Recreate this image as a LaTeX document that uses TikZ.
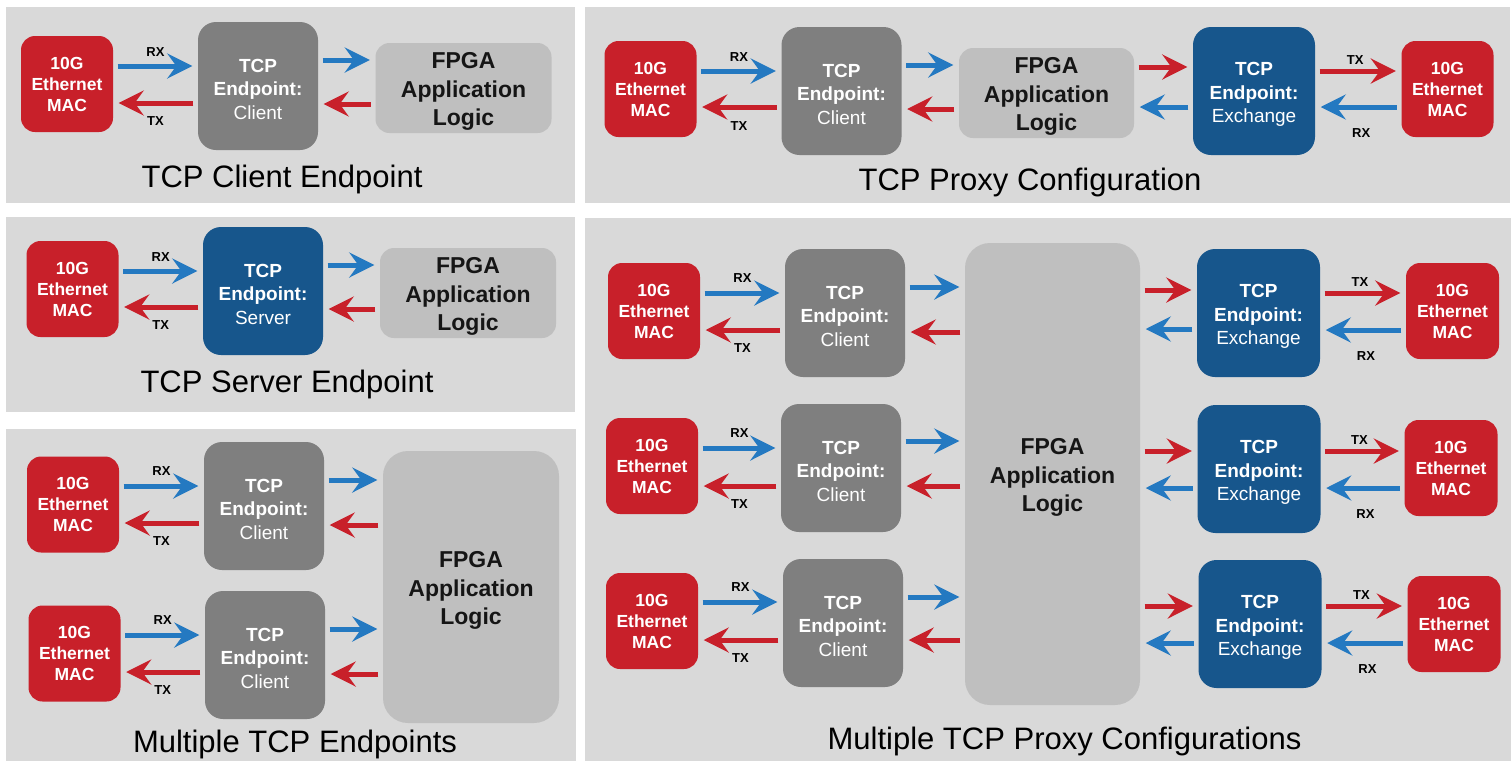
\documentclass[tikz,border=0pt]{standalone}
\usepackage{fontspec}
\setmainfont{Liberation Sans}
\usetikzlibrary{arrows.meta}
\definecolor{panelgray}{HTML}{D9D9D9}
\definecolor{macred}{HTML}{C8202A}
\definecolor{tcpgray}{HTML}{7F7F7F}
\definecolor{tcpblue}{HTML}{17568C}
\definecolor{fpgagray}{HTML}{BFBFBF}
\definecolor{arrblue}{HTML}{2479C1}
\definecolor{arrred}{HTML}{C8202A}
\definecolor{fpgatext}{HTML}{151515}
\newcommand\padT{\rule{0pt}{20pt}}
\newcommand\padF{\rule{0pt}{23pt}}
\tikzset{
  panel/.style={fill=panelgray, draw=none},
  mac/.style={fill=macred, rounded corners=14pt, minimum width=92pt, minimum height=96pt, inner sep=0pt, text=white, align=center, font=\bfseries\fontsize{17.5}{21}\selectfont},
  tcpg/.style={fill=tcpgray, rounded corners=18pt, minimum width=120pt, minimum height=128pt, inner sep=0pt, text=white, align=center, font=\bfseries\fontsize{19}{23.5}\selectfont},
  tcpb/.style={tcpg, fill=tcpblue},
  fpga/.style={fill=fpgagray, rounded corners=14pt, minimum width=176pt, minimum height=90pt, inner sep=0pt, text=fpgatext, align=center, font=\bfseries\fontsize{23}{28.5}\selectfont},
  ba/.style={-{Stealth[length=25pt,width=25pt,inset=9pt]}, line width=5pt, draw=arrblue, shorten <=4.5pt, shorten >=5.5pt},
  ra/.style={ba, draw=arrred},
  lbl/.style={font=\bfseries\fontsize{13}{15}\selectfont, text=black, inner sep=0pt},
  title/.style={font=\fontsize{31}{36}\selectfont, anchor=base, text=black, inner sep=0pt},
}
\begin{document}
\begin{tikzpicture}[x=1pt,y=-1pt]
\useasboundingbox (0,0) rectangle (1511,761);
\fill[white] (0,0) rectangle (1511,761);
% panels
\fill[panel] (6,7) rectangle (575,203);
\fill[panel] (585,7) rectangle (1510,203);
\fill[panel] (6,217) rectangle (575,412);
\fill[panel] (6,429) rectangle (576,761);
\fill[panel] (585,218) rectangle (1511,761);

% ---------- Panel 1: TCP Client Endpoint
\node[mac] (m1) at (67,84) {10G\\Ethernet\\MAC};
\node[tcpg] (t1) at (258,86) {\padT TCP\\Endpoint:\\{\mdseries Client}};
\node[fpga] (f1) at (463.5,88) {\padF FPGA\\Application\\Logic};
\draw[ba] (m1.east |- 0,66) -- (t1.west |- 0,66) node[lbl,midway,yshift=14pt]{RX};
\draw[ra] (t1.west |- 0,103) -- (m1.east |- 0,103) node[lbl,midway,yshift=-18pt]{TX};
\draw[ba] (t1.east |- 0,60) -- (f1.west |- 0,60);
\draw[ra] (f1.west |- 0,104) -- (t1.east |- 0,104);
\node[title] (ti1) at (282,187) {TCP Client Endpoint};

% ---------- Panel 2: TCP Proxy Configuration
\node[mac] (m2a) at (650.5,89) {10G\\Ethernet\\MAC};
\node[tcpg] (t2) at (841.5,91) {\padT TCP\\Endpoint:\\{\mdseries Client}};
\node[fpga, minimum width=175pt] (f2) at (1046.5,93) {\padF FPGA\\Application\\Logic};
\node[tcpb, minimum width=122pt] (x2) at (1254,91) {\padT TCP\\Endpoint:\\{\mdseries Exchange}};
\node[mac] (m2b) at (1447.5,89) {10G\\Ethernet\\MAC};
\draw[ba] (m2a.east |- 0,71) -- (t2.west |- 0,71) node[lbl,midway,yshift=14pt]{RX};
\draw[ra] (t2.west |- 0,107) -- (m2a.east |- 0,107) node[lbl,midway,yshift=-19pt]{TX};
\draw[ba] (t2.east |- 0,65) -- (f2.west |- 0,65);
\draw[ra] (f2.west |- 0,109) -- (t2.east |- 0,109);
\draw[ra] (f2.east |- 0,67) -- (x2.west |- 0,67);
\draw[ba] (x2.west |- 0,107) -- (f2.east |- 0,107);
\draw[ra] (x2.east |- 0,71) -- (m2b.west |- 0,71) node[lbl,midway,yshift=11pt,xshift=-3pt]{TX};
\draw[ba] (m2b.west |- 0,107) -- (x2.east |- 0,107) node[lbl,midway,yshift=-26pt,xshift=3pt]{RX};
\node[title] (ti2) at (1030,190) {TCP Proxy Configuration};

% ---------- Panel 3: TCP Server Endpoint
\node[mac] (m3) at (72.5,289) {10G\\Ethernet\\MAC};
\node[tcpb] (t3) at (263,291) {\padT TCP\\Endpoint:\\{\mdseries Server}};
\node[fpga] (f3) at (468,293) {\padF FPGA\\Application\\Logic};
\draw[ba] (m3.east |- 0,271) -- (t3.west |- 0,271) node[lbl,midway,yshift=14pt]{RX};
\draw[ra] (t3.west |- 0,307) -- (m3.east |- 0,307) node[lbl,midway,yshift=-18pt]{TX};
\draw[ba] (t3.east |- 0,265) -- (f3.west |- 0,265);
\draw[ra] (f3.west |- 0,309) -- (t3.east |- 0,309);
\node[title] (ti3) at (287,392) {TCP Server Endpoint};

% ---------- Panel 4: Multiple TCP Endpoints
\node[mac] (m4a) at (73,504.5) {10G\\Ethernet\\MAC};
\node[tcpg] (t4a) at (264,506) {\padT TCP\\Endpoint:\\{\mdseries Client}};
\node[mac] (m4b) at (74.5,653.5) {10G\\Ethernet\\MAC};
\node[tcpg] (t4b) at (265,655) {\padT TCP\\Endpoint:\\{\mdseries Client}};
\node[fpga, minimum height=272pt, rounded corners=25pt] (f4) at (471,587) {\padF FPGA\\Application\\Logic};
\draw[ba] (m4a.east |- 0,486) -- (t4a.west |- 0,486) node[lbl,midway,yshift=15pt]{RX};
\draw[ra] (t4a.west |- 0,523) -- (m4a.east |- 0,523) node[lbl,midway,yshift=-18pt]{TX};
\draw[ba] (m4b.east |- 0,635) -- (t4b.west |- 0,635) node[lbl,midway,yshift=15pt]{RX};
\draw[ra] (t4b.west |- 0,672) -- (m4b.east |- 0,672) node[lbl,midway,yshift=-18pt]{TX};
\draw[ba] (t4a.east |- 0,480) -- (f4.west |- 0,480);
\draw[ra] (f4.west |- 0,525) -- (t4a.east |- 0,525);
\draw[ba] (t4b.east |- 0,629) -- (f4.west |- 0,629);
\draw[ra] (f4.west |- 0,674) -- (t4b.east |- 0,674);
\node[title] (ti4) at (295,752) {Multiple TCP Endpoints};

% ---------- Panel 5: Multiple TCP Proxy Configurations
\node[fpga, minimum width=175pt, minimum height=462pt, rounded corners=25pt] (f5) at (1052.5,474) {\padF FPGA\\Application\\Logic};
% row 1
\node[mac] (m5a) at (654,311) {10G\\Ethernet\\MAC};
\node[tcpg] (t5a) at (845,313) {\padT TCP\\Endpoint:\\{\mdseries Client}};
\node[tcpb, minimum width=123pt] (x5a) at (1258.5,313) {\padT TCP\\Endpoint:\\{\mdseries Exchange}};
\node[mac, minimum width=93pt] (n5a) at (1452.5,311) {10G\\Ethernet\\MAC};
% row 2
\node[mac] (m5b) at (652,466) {10G\\Ethernet\\MAC};
\node[tcpg] (t5b) at (841,468) {\padT TCP\\Endpoint:\\{\mdseries Client}};
\node[tcpb, minimum width=123pt] (x5b) at (1259,469) {\padT TCP\\Endpoint:\\{\mdseries Exchange}};
\node[mac, minimum width=93pt] (n5b) at (1451,468) {10G\\Ethernet\\MAC};
% row 3
\node[mac] (m5c) at (652,621) {10G\\Ethernet\\MAC};
\node[tcpg] (t5c) at (843,623) {\padT TCP\\Endpoint:\\{\mdseries Client}};
\node[tcpb, minimum width=123pt] (x5c) at (1260,624) {\padT TCP\\Endpoint:\\{\mdseries Exchange}};
\node[mac, minimum width=93pt] (n5c) at (1454,624) {10G\\Ethernet\\MAC};
% row 1 arrows
\draw[ba] (m5a.east |- 0,293) -- (t5a.west |- 0,293) node[lbl,midway,yshift=15pt]{RX};
\draw[ra] (t5a.west |- 0,330) -- (m5a.east |- 0,330) node[lbl,midway,yshift=-18pt]{TX};
\draw[ba] (t5a.east |- 0,287) -- (f5.west |- 0,287);
\draw[ra] (f5.west |- 0,332) -- (t5a.east |- 0,332);
\draw[ra] (f5.east |- 0,290) -- (x5a.west |- 0,290);
\draw[ba] (x5a.west |- 0,329) -- (f5.east |- 0,329);
\draw[ra] (x5a.east |- 0,293) -- (n5a.west |- 0,293) node[lbl,midway,yshift=11pt,xshift=-3pt]{TX};
\draw[ba] (n5a.west |- 0,330) -- (x5a.east |- 0,330) node[lbl,midway,yshift=-26pt,xshift=3pt]{RX};
% row 2 arrows
\draw[ba] (m5b.east |- 0,448) -- (t5b.west |- 0,448) node[lbl,midway,yshift=15pt]{RX};
\draw[ra] (t5b.west |- 0,486) -- (m5b.east |- 0,486) node[lbl,midway,yshift=-18pt]{TX};
\draw[ba] (t5b.east |- 0,441) -- (f5.west |- 0,441);
\draw[ra] (f5.west |- 0,486) -- (t5b.east |- 0,486);
\draw[ra] (f5.east |- 0,451) -- (x5b.west |- 0,451);
\draw[ba] (x5b.west |- 0,488) -- (f5.east |- 0,488);
\draw[ra] (x5b.east |- 0,451) -- (n5b.west |- 0,451) node[lbl,midway,yshift=11pt,xshift=-3pt]{TX};
\draw[ba] (n5b.west |- 0,488) -- (x5b.east |- 0,488) node[lbl,midway,yshift=-26pt,xshift=3pt]{RX};
% row 3 arrows
\draw[ba] (m5c.east |- 0,602) -- (t5c.west |- 0,602) node[lbl,midway,yshift=15pt]{RX};
\draw[ra] (t5c.west |- 0,640) -- (m5c.east |- 0,640) node[lbl,midway,yshift=-18pt]{TX};
\draw[ba] (t5c.east |- 0,597) -- (f5.west |- 0,597);
\draw[ra] (f5.west |- 0,640) -- (t5c.east |- 0,640);
\draw[ra] (f5.east |- 0,606) -- (x5c.west |- 0,606);
\draw[ba] (x5c.west |- 0,643) -- (f5.east |- 0,643);
\draw[ra] (x5c.east |- 0,606) -- (n5c.west |- 0,606) node[lbl,midway,yshift=11pt,xshift=-3pt]{TX};
\draw[ba] (n5c.west |- 0,643) -- (x5c.east |- 0,643) node[lbl,midway,yshift=-26pt,xshift=3pt]{RX};
\node[title] (ti5) at (1064.5,749) {Multiple TCP Proxy Configurations};
\end{tikzpicture}
\end{document}
